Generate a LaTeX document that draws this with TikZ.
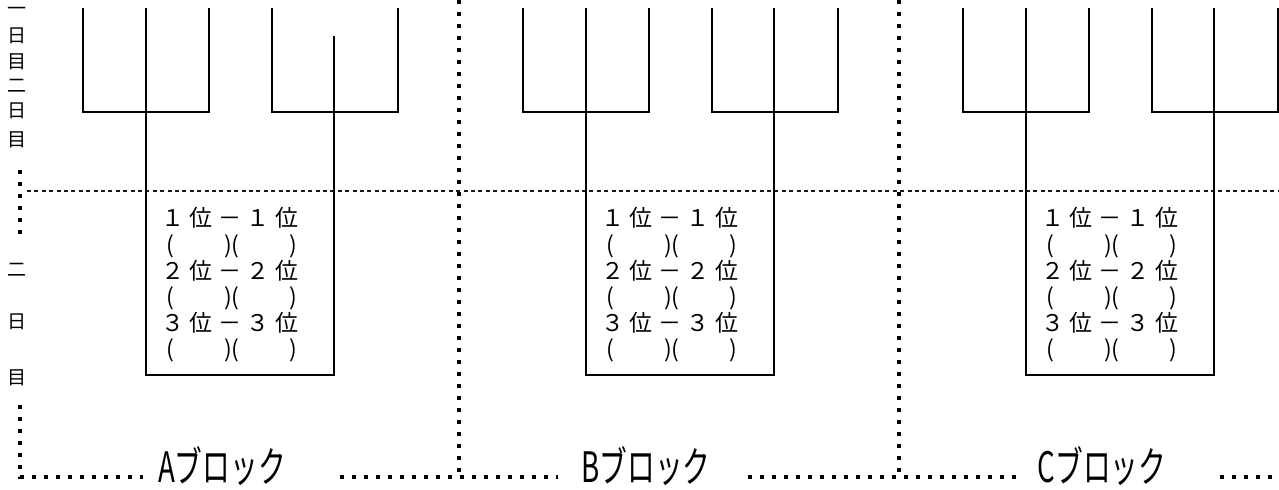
\documentclass[tikz,border=0pt]{standalone}
\usepackage{fontspec}
\usepackage{graphicx}
\newfontfamily\jp{Noto Sans CJK JP}
\newcommand{\rankrow}[1]{{\addfontfeature{LetterSpace=24}#1位－#1位}}
\newcommand{\blankrow}{(\hspace{25pt})(\hspace{25pt})}
\newcommand{\blocktext}[1]{\scalebox{0.66}[1]{#1ブロック}}
\tikzset{
	bracket/.style={line width=0.75pt},
	dotline/.style={line width=2.4pt, dash pattern=on 2.2pt off 3.8pt},
	dayline/.style={line width=0.55pt, dash pattern=on 2pt off 1.7pt, black!90},
	rank/.style={anchor=west, inner sep=0pt, font=\jp\fontsize{11.5pt}{13pt}\selectfont},
	blocklabel/.style={inner sep=0pt, font=\jp\fontsize{21pt}{24pt}\selectfont},
	daylabel/.style={inner sep=0pt, font=\jp\fontsize{9.5pt}{11pt}\selectfont}
}
\begin{document}
\begin{tikzpicture}[x=0.5pt,y=-0.5pt]
	\useasboundingbox (0,0) rectangle (1279,490);
	\fill[white] (0,0) rectangle (1279,490);

	\draw[dayline] (27,191) -- (1279,191);
	\draw[dotline] (20,170) -- (20,240);
	\draw[dotline] (20,405) -- (20,477) -- (143,477);
	\draw[dotline] (459,0) -- (459,477);
	\draw[dotline] (899,0) -- (899,477);
	\draw[dotline] (340,477) -- (558,477);
	\draw[dotline] (748,477) -- (1018,477);
	\draw[dotline] (1220,477) -- (1279,477);

	\foreach \c/\y [count=\i] in {一/11,日/36,目/62,二/86,日/111,目/140,二/270,日/322,目/378}
		\node[daylabel] (day\i) at (17,\y) {\c};

	\foreach \blk/\dx/\mtop in {A/0/36,B/440/8,C/880/8}{
		\begin{scope}[shift={(\dx,0)}]
			\draw[bracket] (83,8) -- (83,112) -- (209,112) -- (209,8);
			\draw[bracket] (272,8) -- (272,112) -- (398,112) -- (398,8);
			\draw[bracket] (146,8) -- (146,375) -- (334,375) -- (334,\mtop);

			\node[rank] (r1-\blk) at (161,218) {\rankrow{１}};
			\node[rank] (p1-\blk) at (166,246) {\blankrow};
			\node[rank] (r2-\blk) at (161,271) {\rankrow{２}};
			\node[rank] (p2-\blk) at (166,298) {\blankrow};
			\node[rank] (r3-\blk) at (161,323) {\rankrow{３}};
			\node[rank] (p3-\blk) at (166,350) {\blankrow};
		\end{scope}
	}

	\node[blocklabel] (lblA) at (222,466) {\blocktext{A}};
	\node[blocklabel] (lblB) at (646,466) {\blocktext{B}};
	\node[blocklabel] (lblC) at (1102,466) {\blocktext{C}};
\end{tikzpicture}
\end{document}
